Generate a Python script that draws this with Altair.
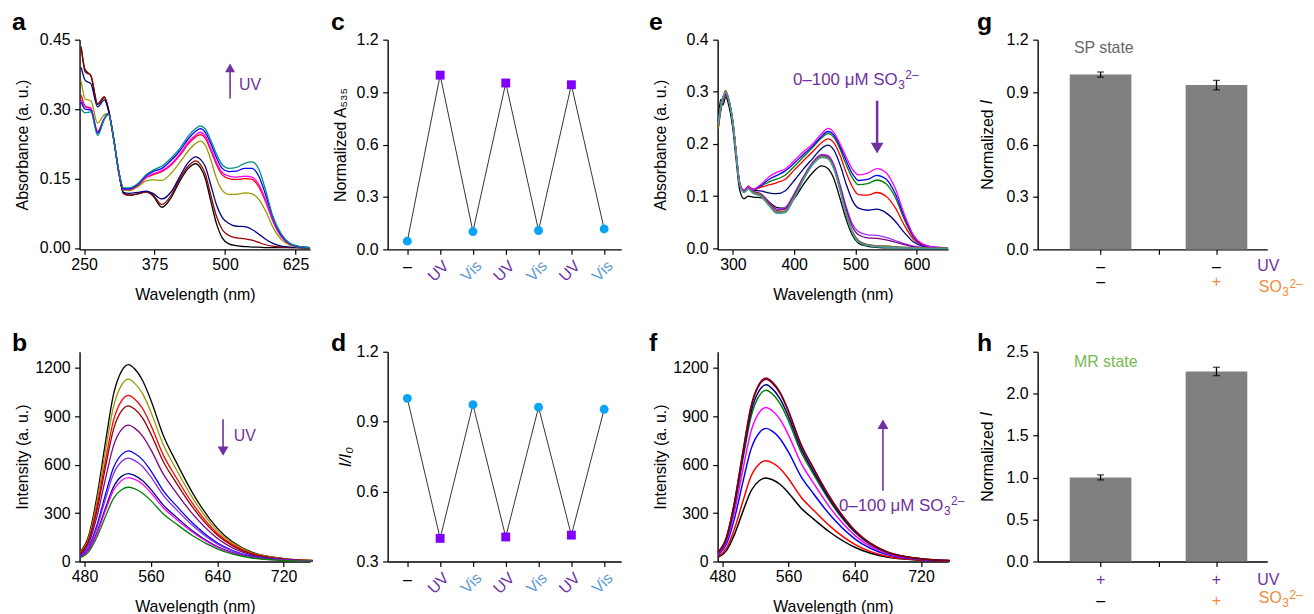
import altair as alt
import pandas as pd

FONT = "Liberation Sans"
PURPLE = "#7030A0"
VISBLUE = "#5B9BD5"
ORANGE = "#F28A3A"
MR_GREEN = "#77B852"
SP_GREY = "#666666"

# ---------------- panel a : absorbance, UV irradiation ----------------
a_x = [245, 252, 262, 274, 286, 293, 303, 312, 320, 330, 345, 360, 372, 388, 405, 420, 435,
       448, 456, 465, 475, 485, 495, 507, 520, 535, 548, 560, 572, 585, 600, 615, 630, 650]
a_black = [0.432, 0.385, 0.372, 0.310, 0.325, 0.300, 0.232, 0.160, 0.118, 0.114, 0.117, 0.121, 0.113, 0.088, 0.110, 0.145, 0.172,
           0.182, 0.174, 0.150, 0.100, 0.052, 0.022, 0.009, 0.005, 0.003, 0.002, 0.002, 0.001, 0.001, 0.001, 0.001, 0.001, 0.000]
a_maroon = [0.435, 0.380, 0.373, 0.312, 0.327, 0.302, 0.232, 0.160, 0.118, 0.114, 0.117, 0.121, 0.115, 0.094, 0.115, 0.150, 0.177,
            0.188, 0.181, 0.160, 0.113, 0.068, 0.040, 0.027, 0.022, 0.020, 0.017, 0.012, 0.007, 0.004, 0.002, 0.001, 0.001, 0.000]
a_navy = [0.390, 0.362, 0.355, 0.305, 0.320, 0.298, 0.232, 0.160, 0.120, 0.118, 0.120, 0.123, 0.118, 0.106, 0.122, 0.155, 0.185,
          0.197, 0.192, 0.176, 0.135, 0.093, 0.066, 0.053, 0.047, 0.046, 0.040, 0.030, 0.019, 0.010, 0.004, 0.002, 0.001, 0.000]
a_olive = [0.360, 0.322, 0.318, 0.270, 0.288, 0.290, 0.232, 0.162, 0.125, 0.124, 0.132, 0.145, 0.147, 0.146, 0.162, 0.185, 0.210,
           0.226, 0.231, 0.222, 0.190, 0.150, 0.125, 0.116, 0.116, 0.119, 0.117, 0.105, 0.080, 0.045, 0.018, 0.006, 0.002, 0.001]
a_red = [0.330, 0.306, 0.302, 0.252, 0.280, 0.290, 0.232, 0.162, 0.127, 0.126, 0.135, 0.152, 0.158, 0.165, 0.180, 0.200, 0.225,
         0.240, 0.245, 0.237, 0.210, 0.180, 0.158, 0.150, 0.148, 0.150, 0.148, 0.132, 0.100, 0.058, 0.024, 0.008, 0.003, 0.001]
a_magenta = [0.320, 0.305, 0.300, 0.250, 0.280, 0.290, 0.232, 0.162, 0.127, 0.127, 0.136, 0.153, 0.160, 0.167, 0.182, 0.203, 0.229,
             0.244, 0.250, 0.242, 0.215, 0.185, 0.163, 0.155, 0.153, 0.155, 0.153, 0.137, 0.104, 0.060, 0.025, 0.008, 0.003, 0.001]
a_blue = [0.315, 0.300, 0.298, 0.248, 0.279, 0.290, 0.232, 0.163, 0.128, 0.128, 0.137, 0.156, 0.165, 0.172, 0.190, 0.210, 0.236,
          0.252, 0.258, 0.250, 0.225, 0.195, 0.172, 0.165, 0.166, 0.172, 0.172, 0.155, 0.115, 0.066, 0.028, 0.009, 0.003, 0.001]
a_teal = [0.300, 0.292, 0.294, 0.243, 0.278, 0.290, 0.232, 0.163, 0.130, 0.130, 0.139, 0.158, 0.168, 0.177, 0.195, 0.215, 0.242,
          0.258, 0.264, 0.257, 0.232, 0.203, 0.180, 0.172, 0.174, 0.183, 0.186, 0.170, 0.125, 0.068, 0.030, 0.010, 0.004, 0.001]
a_colors = ["#000000", "#990000", "#000080", "#999900", "#FF0000", "#FF00FF", "#0000FF", "#008B8B"]

# ---------------- panel b : fluorescence, UV irradiation ----------------
b_x = [475, 485, 495, 505, 515, 525, 533, 540, 550, 560, 575, 590, 610, 640, 680, 720, 755]
b_black = [61, 159, 403, 732, 1037, 1183, 1220, 1196, 1122, 1000, 781, 622, 427, 207, 61, 18, 6]
b_olive = [57, 147, 373, 678, 961, 1096, 1130, 1107, 1040, 927, 723, 576, 396, 192, 57, 17, 6]
b_red = [52, 134, 340, 618, 876, 999, 1030, 1009, 948, 845, 659, 525, 361, 175, 52, 15, 5]
b_darkred = [48, 125, 318, 579, 820, 936, 965, 946, 888, 791, 618, 492, 338, 164, 48, 14, 5]
b_purple = [42, 110, 279, 507, 718, 820, 845, 828, 777, 693, 541, 431, 296, 144, 42, 13, 4]
b_blue = [34, 89, 226, 411, 582, 664, 685, 671, 630, 562, 438, 349, 240, 116, 34, 10, 3]
b_violet = [32, 83, 211, 384, 544, 621, 640, 627, 589, 525, 410, 326, 224, 109, 32, 10, 3]
b_navy = [27, 71, 180, 327, 463, 529, 545, 534, 501, 447, 349, 278, 191, 93, 27, 8, 3]
b_magenta = [26, 68, 172, 312, 442, 504, 520, 510, 478, 426, 333, 265, 182, 88, 26, 8, 3]
b_green = [23, 60, 152, 276, 391, 446, 460, 451, 423, 377, 294, 235, 161, 78, 23, 7, 2]
b_colors = ["#000000", "#999900", "#FF0000", "#990000", "#800080", "#0000FF", "#8A2BE2", "#000080", "#FF00FF", "#008000"]

# ---------------- panel c / d : switching cycles ----------------
cyc_idx = [0, 1, 2, 3, 4, 5, 6]
cyc_kind = ["vis", "uv", "vis", "uv", "vis", "uv", "vis"]
cyc_labels = ["–", "UV", "Vis", "UV", "Vis", "UV", "Vis"]
c_vals = [0.047, 0.997, 0.102, 0.952, 0.108, 0.942, 0.117]
d_vals = [1.000, 0.399, 0.973, 0.405, 0.962, 0.413, 0.953]

# ---------------- panel e : absorbance, sulfite titration ----------------
e_x = [276, 280, 284, 288, 294, 300, 305, 311, 318, 325, 333, 345, 360, 372, 385, 400, 415,
       430, 445, 455, 465, 475, 485, 495, 505, 520, 535, 550, 565, 580, 595, 610, 625, 650]
e_black = [0.245, 0.285, 0.275, 0.290, 0.270, 0.228, 0.172, 0.112, 0.095, 0.100, 0.098,
           0.097, 0.088, 0.078, 0.077, 0.095, 0.122, 0.145, 0.158, 0.153, 0.133, 0.095, 0.055, 0.025, 0.010, 0.004, 0.002, 0.001, 0.001, 0.001, 0.000, 0.000, 0.000, 0.000]
e_navy = [0.242, 0.275, 0.290, 0.293, 0.278, 0.239, 0.184, 0.124, 0.110, 0.118, 0.112,
          0.110, 0.106, 0.105, 0.110, 0.130, 0.152, 0.172, 0.192, 0.198, 0.188, 0.160, 0.123, 0.092, 0.077, 0.073, 0.075, 0.068, 0.052, 0.030, 0.012, 0.004, 0.002, 0.001]
e_red = [0.240, 0.272, 0.284, 0.294, 0.281, 0.240, 0.184, 0.124, 0.110, 0.119, 0.112,
         0.117, 0.122, 0.126, 0.132, 0.150, 0.168, 0.185, 0.203, 0.210, 0.202, 0.178, 0.145, 0.118, 0.103, 0.102, 0.107, 0.100, 0.078, 0.044, 0.017, 0.006, 0.002, 0.001]
e_green = [0.228, 0.262, 0.286, 0.300, 0.279, 0.241, 0.185, 0.125, 0.110, 0.117, 0.112,
           0.119, 0.128, 0.133, 0.140, 0.157, 0.175, 0.193, 0.212, 0.220, 0.213, 0.190, 0.160, 0.135, 0.122, 0.124, 0.131, 0.124, 0.098, 0.055, 0.021, 0.007, 0.002, 0.001]
e_blue = [0.236, 0.266, 0.292, 0.296, 0.280, 0.240, 0.186, 0.126, 0.111, 0.118, 0.113,
          0.120, 0.133, 0.140, 0.148, 0.163, 0.180, 0.196, 0.215, 0.224, 0.217, 0.195, 0.168, 0.143, 0.130, 0.132, 0.140, 0.133, 0.105, 0.060, 0.023, 0.007, 0.003, 0.001]
e_magenta = [0.238, 0.268, 0.288, 0.298, 0.282, 0.242, 0.188, 0.127, 0.112, 0.118, 0.113,
             0.122, 0.138, 0.146, 0.152, 0.168, 0.185, 0.200, 0.220, 0.230, 0.222, 0.200, 0.175, 0.152, 0.141, 0.144, 0.153, 0.145, 0.115, 0.065, 0.025, 0.008, 0.003, 0.001]
e_violet = [0.235, 0.270, 0.287, 0.297, 0.280, 0.240, 0.185, 0.124, 0.109, 0.116, 0.110,
            0.105, 0.088, 0.075, 0.078, 0.105, 0.137, 0.165, 0.180, 0.178, 0.160, 0.122, 0.080, 0.047, 0.032, 0.026, 0.025, 0.021, 0.015, 0.009, 0.004, 0.002, 0.001, 0.000]
e_purple = [0.232, 0.265, 0.285, 0.296, 0.279, 0.239, 0.184, 0.123, 0.108, 0.115, 0.109,
            0.104, 0.086, 0.073, 0.075, 0.102, 0.135, 0.163, 0.178, 0.176, 0.157, 0.118, 0.075, 0.042, 0.026, 0.020, 0.019, 0.016, 0.012, 0.007, 0.003, 0.001, 0.001, 0.000]
e_olive = [0.230, 0.272, 0.290, 0.302, 0.281, 0.241, 0.186, 0.124, 0.108, 0.115, 0.108,
           0.103, 0.083, 0.070, 0.072, 0.099, 0.133, 0.161, 0.175, 0.172, 0.152, 0.112, 0.066, 0.032, 0.014, 0.007, 0.005, 0.004, 0.003, 0.002, 0.001, 0.001, 0.000, 0.000]
e_brown = [0.233, 0.270, 0.288, 0.303, 0.282, 0.242, 0.186, 0.124, 0.108, 0.114, 0.107,
           0.102, 0.082, 0.069, 0.071, 0.098, 0.133, 0.162, 0.177, 0.174, 0.154, 0.113, 0.067, 0.033, 0.015, 0.007, 0.005, 0.004, 0.003, 0.002, 0.001, 0.001, 0.000, 0.000]
e_grey = [0.237, 0.268, 0.286, 0.300, 0.281, 0.241, 0.185, 0.123, 0.107, 0.114, 0.106,
          0.101, 0.081, 0.068, 0.070, 0.097, 0.132, 0.161, 0.176, 0.173, 0.153, 0.112, 0.065, 0.031, 0.013, 0.006, 0.004, 0.003, 0.002, 0.001, 0.001, 0.000, 0.000, 0.000]
e_teal = [0.240, 0.272, 0.290, 0.298, 0.280, 0.240, 0.185, 0.123, 0.107, 0.113, 0.105,
          0.100, 0.080, 0.067, 0.068, 0.096, 0.131, 0.160, 0.174, 0.172, 0.152, 0.111, 0.064, 0.030, 0.012, 0.005, 0.003, 0.002, 0.001, 0.001, 0.000, 0.000, 0.000, 0.000]
e_colors = ["#000000", "#000080", "#FF0000", "#008000", "#0000FF", "#FF00FF",
            "#9933FF", "#800080", "#808000", "#8B5A2B", "#808080", "#3A9E9E"]

# ---------------- panel f : fluorescence, sulfite titration ----------------
f_x = [475, 485, 495, 505, 515, 525, 533, 540, 550, 560, 575, 590, 610, 640, 680, 720, 755]
f_black = [26, 67, 171, 311, 440, 502, 518, 508, 477, 425, 332, 264, 181, 88, 26, 8, 3]
f_red = [31, 81, 206, 375, 531, 606, 625, 613, 575, 513, 400, 319, 219, 106, 31, 9, 3]
f_blue = [41, 107, 272, 495, 701, 800, 825, 809, 759, 677, 528, 421, 289, 140, 41, 12, 4]
f_magenta = [48, 124, 315, 573, 812, 926, 955, 936, 879, 783, 611, 487, 334, 162, 48, 14, 5]
f_green = [53, 138, 350, 637, 903, 1030, 1062, 1041, 977, 871, 680, 542, 372, 181, 53, 16, 5]
f_navy = [55, 142, 361, 657, 931, 1062, 1095, 1073, 1007, 898, 701, 558, 383, 186, 55, 16, 5]
f_purple = [57, 147, 373, 678, 961, 1096, 1130, 1107, 1040, 927, 723, 576, 396, 192, 57, 17, 6]
f_maroon = [57, 148, 376, 683, 967, 1104, 1138, 1115, 1047, 933, 728, 580, 398, 193, 57, 17, 6]
f_colors = ["#000000", "#FF0000", "#0000FF", "#FF00FF", "#008000", "#000080", "#800080", "#800000"]

# ---------------- panel g / h : bars ----------------
bar_pos = [1, 3]
g_vals = [1.000, 0.940]
g_err = [0.015, 0.027]
h_vals = [1.002, 2.265]
h_err = [0.030, 0.050]
g_row1 = ["–", "–"]
g_row2 = ["–", "+"]
h_row1 = ["+", "+"]
h_row2 = ["–", "+"]

ONE = pd.DataFrame({"k": [0]})


def long_df(xs, colors, arrays):
    recs = []
    for i, (col, vals) in enumerate(zip(colors, arrays)):
        for xv, yv in zip(xs, vals):
            recs.append({"x": xv, "y": yv, "c": col, "s": i})
    return pd.DataFrame(recs)


def xenc(dom, ticks, title, **kw):
    ax = dict(values=ticks, title=title, titleY=37, labelPadding=2.5, tickSize=5,
              labelFlush=False, labelOverlap=False)
    ax.update(kw)
    return alt.X("x:Q", scale=alt.Scale(domain=dom, nice=False, zero=False), axis=alt.Axis(**ax))


def yenc(dom, ticks, title, fmt, titleX, **kw):
    ax = dict(values=ticks, title=title, format=fmt, titleX=titleX, labelPadding=4.5, tickSize=5,
              labelFlush=False, labelOverlap=False)
    ax.update(kw)
    return alt.Y("y:Q", scale=alt.Scale(domain=dom, nice=False, zero=False), axis=alt.Axis(**ax))


def letter(ch, dx, dy):
    return alt.Chart(ONE).mark_text(text=ch, font=FONT, fontSize=25, fontWeight="bold",
                                    align="left", baseline="alphabetic", color="black").encode(
        x=alt.value(dx), y=alt.value(dy))


def lines(df, X, Y, sw=1.3):
    return alt.Chart(df).mark_line(strokeWidth=sw, interpolate="monotone").encode(
        x=X, y=Y, color=alt.Color("c:N", scale=None, legend=None), detail="s:N")


def arrow(xv, y0, y1, up, size, X, Y, sw):
    shaft = alt.Chart(pd.DataFrame({"x": [xv], "y": [y0], "y2": [y1]})).mark_rule(
        color=PURPLE, strokeWidth=sw).encode(x=X, y=Y, y2="y2:Q")
    head = alt.Chart(pd.DataFrame({"x": [xv], "y": [y1]})).mark_point(
        shape="triangle-up" if up else "triangle-down", filled=True, size=size,
        color=PURPLE, opacity=1, strokeWidth=0).encode(x=X, y=Y)
    return [shaft, head]


def text_at(txt, xv, yv, X, Y, color, fs=16, align="left", baseline="alphabetic", dx=0, dy=0, style="normal"):
    return alt.Chart(pd.DataFrame({"x": [xv], "y": [yv]})).mark_text(
        text=txt, font=FONT, fontSize=fs, color=color, align=align, baseline=baseline,
        dx=dx, dy=dy, fontStyle=style).encode(x=X, y=Y)


def so3_label(prefix, xv, yv, X, Y, color, fs, sup_dy=-6):
    base = prefix + "SO"
    widths = {"0": .556, "1": .556, "–": .556, " ": .278, "μ": .576, "M": .833, "S": .667, "O": .778}
    w = sum(widths.get(ch, .556) for ch in base) * fs
    small = round(fs * 0.72)
    return [text_at(base, xv, yv, X, Y, color, fs),
            text_at("3", xv, yv, X, Y, color, small, dx=w + 0.5, dy=4),
            text_at("2–", xv, yv, X, Y, color, small, dx=w + 0.5 + 0.556 * small + 0.5, dy=sup_dy)]


def ylabel_italic(height, titleX):
    # italic "I" that completes the rotated axis title "Normalized I"
    return alt.Chart(ONE).mark_text(text="I", font=FONT, fontSize=16, fontStyle="italic", angle=270,
                                    align="center", baseline="bottom", color="black").encode(
        x=alt.value(titleX), y=alt.value(height / 2 - 42.7))


def spacer(w):
    return alt.Chart(ONE).mark_point(opacity=0).encode(x=alt.value(0), y=alt.value(0)).properties(width=w, height=1)


TOP_H = 211
BOT_H = 211

# ---- a ----
Xa = xenc([242, 651], [250, 375, 500, 625], "Wavelength (nm)")
Ya = yenc([-0.003, 0.45], [0, 0.15, 0.30, 0.45], "Absorbance (a. u.)", ".2f", -49)
pa = alt.layer(
    lines(long_df(a_x, a_colors, [a_black, a_maroon, a_navy, a_olive, a_red, a_magenta, a_blue, a_teal]), Xa, Ya),
    *arrow(509, 0.323, 0.389, True, 100, Xa, Ya, 1.6),
    text_at("UV", 525, 0.342, Xa, Ya, PURPLE),
    letter("a", -68, -10),
).properties(width=232, height=TOP_H)

# ---- b ----
Xb = xenc([474, 752], [480, 560, 640, 720], "Wavelength (nm)")
Yb = yenc([0, 1300], [0, 300, 600, 900, 1200], "Intensity (a. u.)", "d", -49)
pb = alt.layer(
    lines(long_df(b_x, b_colors, [b_black, b_olive, b_red, b_darkred, b_purple, b_blue, b_violet,
                                  b_navy, b_magenta, b_green]), Xb, Yb),
    *arrow(647, 881, 684, False, 120, Xb, Yb, 1.6),
    text_at("UV", 660, 747, Xb, Yb, PURPLE),
    letter("b", -68, -0.5),
).properties(width=232, height=BOT_H)


# ---- c / d ----
def cycle_panel(vals, dom, ticks, title, titleX, letter_ch, letter_dy, dash_y, height, title_style="normal"):
    df = pd.DataFrame({"x": cyc_idx, "y": vals, "kind": cyc_kind})
    df["shp"] = ["square" if k == "uv" else "circle" for k in cyc_kind]
    df["col"] = ["#8000FF" if k == "uv" else "#0AA3F5" for k in cyc_kind]
    X = alt.X("x:Q", scale=alt.Scale(domain=[-0.6, 6.52], nice=False, zero=False),
              axis=alt.Axis(values=cyc_idx, title=None, tickSize=5, labelAngle=-45, labelPadding=3,
                            labelExpr="['', 'UV', 'Vis', 'UV', 'Vis', 'UV', 'Vis'][datum.value]",
                            labelColor={"condition": {"test": "datum.value % 2 == 1", "value": PURPLE},
                                        "value": VISBLUE},
                            labelFlush=False, labelOverlap=False))
    Y = yenc(dom, ticks, title, ".1f", titleX, titleFontStyle=title_style)
    line = alt.Chart(df).mark_line(color="#333333", strokeWidth=1).encode(x=X, y=Y)
    pts = alt.Chart(df).mark_point(filled=True, opacity=1, size=80, strokeWidth=0).encode(
        x=X, y=Y, shape=alt.Shape("shp:N", scale=None), color=alt.Color("col:N", scale=None))
    return alt.layer(
        line, pts,
        text_at(cyc_labels[0], 0, dash_y, X, Y, "black", 16, align="center", baseline="middle"),
        letter(letter_ch, -57, letter_dy),
    ).properties(width=235, height=height)


pc = cycle_panel(c_vals, [0, 1.2], [0, 0.3, 0.6, 0.9, 1.2], "Normalized A₅₃₅", -39, "c", -10, -0.10, TOP_H)
pd_ = cycle_panel(d_vals, [0.3, 1.2], [0.3, 0.6, 0.9, 1.2], "I/I₀", -34, "d", -0.5, 0.22, BOT_H, "italic")

# ---- e ----
Xe = xenc([275, 651.5], [300, 400, 500, 600], "Wavelength (nm)")
Ye = yenc([-0.002, 0.4], [0, 0.1, 0.2, 0.3, 0.4], "Absorbance (a. u.)", ".1f", -49)
pe = alt.layer(
    lines(long_df(e_x, e_colors, [e_black, e_navy, e_red, e_green, e_blue, e_magenta, e_violet,
                                  e_purple, e_olive, e_brown, e_grey, e_teal]), Xe, Ye),
    *arrow(535.4, 0.283, 0.192, False, 160, Xe, Ye, 2.5),
    *so3_label("0–100 μM ", 398.2, 0.314, Xe, Ye, PURPLE, 17),
    letter("e", -69, -10),
).properties(width=232, height=TOP_H)

# ---- f ----
Xf = xenc([474.4, 752.8], [480, 560, 640, 720], "Wavelength (nm)")
Yf = yenc([0, 1300], [0, 300, 600, 900, 1200], "Intensity (a. u.)", "d", -49)
pf = alt.layer(
    lines(long_df(f_x, f_colors, [f_black, f_red, f_blue, f_magenta, f_green, f_navy, f_purple, f_maroon]),
          Xf, Yf, sw=1.5),
    *arrow(674, 439, 851, True, 120, Xf, Yf, 1.6),
    *so3_label("0–100 μM ", 620.8, 312, Xf, Yf, PURPLE, 17),
    letter("f", -69, -0.5),
).properties(width=232, height=BOT_H)


# ---- g / h ----
def bar_panel(vals, errs, dom, ticks, row1, row1_cols, row2, row2_cols, ys, state_txt, state_col, state_y,
              letter_ch, letter_dy, height):
    X = alt.X("x:Q", scale=alt.Scale(domain=[0, 3.79], nice=False, zero=False),
              axis=alt.Axis(values=[1, 2, 3], labels=False, title=None, tickSize=5))
    Y = yenc(dom, ticks, "Normalized", ".1f", -42.5, titleY=height / 2 + 4.5)
    ys_scale = alt.Scale(domain=dom, nice=False, zero=False)
    df = pd.DataFrame({"x": bar_pos, "y": vals, "lo": [v - e for v, e in zip(vals, errs)],
                       "hi": [v + e for v, e in zip(vals, errs)]})
    bars = alt.Chart(df).mark_bar(size=62, color="#808080").encode(x=X, y=Y)
    err = alt.Chart(df).mark_rule(color="black", strokeWidth=1.3).encode(
        x=X, y=alt.Y("lo:Q", scale=ys_scale), y2="hi:Q")
    cap_lo = alt.Chart(df).mark_tick(color="black", orient="horizontal", size=7, thickness=1.3).encode(
        x=X, y=alt.Y("lo:Q", scale=ys_scale))
    cap_hi = alt.Chart(df).mark_tick(color="black", orient="horizontal", size=7, thickness=1.3).encode(
        x=X, y=alt.Y("hi:Q", scale=ys_scale))
    sym = pd.DataFrame({"x": bar_pos + bar_pos, "y": [ys[0], ys[0], ys[1], ys[1]],
                        "t": row1 + row2, "c": row1_cols + row2_cols})
    syms = alt.Chart(sym).mark_text(font=FONT, fontSize=16, baseline="middle", align="center").encode(
        x=X, y=Y, text="t:N", color=alt.Color("c:N", scale=None))
    return alt.layer(
        bars, err, cap_lo, cap_hi, syms,
        text_at("UV", 3.705, ys[2], X, Y, PURPLE),
        *so3_label("", 3.73, ys[3], X, Y, ORANGE, 16, sup_dy=-4),
        text_at(state_txt, 0.54, state_y, X, Y, state_col),
        ylabel_italic(height, -42.5),
        letter(letter_ch, -61, letter_dy),
    ).properties(width=231, height=height)


pg = bar_panel(g_vals, g_err, [0, 1.2], [0, 0.3, 0.6, 0.9, 1.2], g_row1, ["black", "black"], g_row2,
               ["black", ORANGE], [-0.102, -0.188, -0.126, -0.2418], "SP state", SP_GREY, 1.126, "g", -10, TOP_H)
ph = bar_panel(h_vals, h_err, [0, 2.5], [0, 0.5, 1.0, 1.5, 2.0, 2.5], h_row1, [PURPLE, PURPLE], h_row2,
               ["black", ORANGE], [-0.2216, -0.4775, -0.275, -0.4976], "MR state", MR_GREEN, 2.32, "h", -0.5, BOT_H)

row1 = [pa, spacer(78), pc, spacer(97), pe, spacer(90), pg]
row2 = [pb, spacer(78), pd_, spacer(97), pf, spacer(90), ph]

chart = alt.concat(*(row1 + row2), columns=7, spacing={"row": 103, "column": 0},
                   bounds="flush", align="each").properties(
    autosize=alt.AutoSizeParams(type="none"),
    padding={"left": 72, "top": 30, "right": 1234, "bottom": 576},
).configure_view(stroke=None).configure_axis(
    labelFont=FONT, titleFont=FONT, labelFontSize=16, titleFontSize=16, titleFontWeight="normal",
    labelColor="black", titleColor="black", domainColor="black", tickColor="black",
    domainWidth=1.4, tickWidth=1.2, grid=False)

chart.save("out.html", embed_options={"renderer": "svg", "actions": False})
